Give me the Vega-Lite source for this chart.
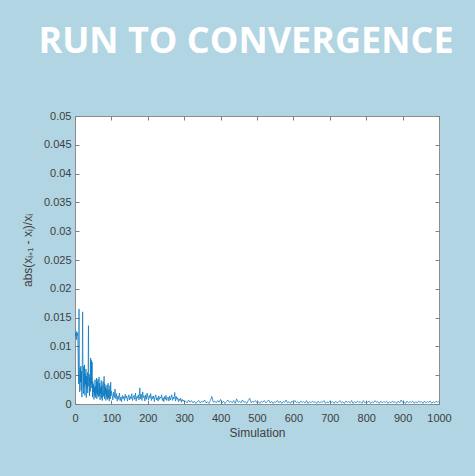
{
  "$schema": "https://vega.github.io/schema/vega-lite/v6.json",
  "width": 364,
  "height": 288,
  "autosize": {"type": "none"},
  "padding": {"left": 75, "top": 116, "right": 36, "bottom": 72},
  "background": "#b1d5e3",
  "title": {
    "text": "RUN TO CONVERGENCE",
    "color": "#ffffff",
    "font": "Open Sans",
    "fontSize": 36,
    "fontWeight": "bold",
    "anchor": "middle",
    "dx": -11,
    "offset": 21,
    "baseline": "alphabetic",
    "frame": "group"
  },
  "config": {
    "view": {"fill": "#ffffff", "stroke": "#8c8c8c", "strokeWidth": 1},
    "axis": {
      "labelFont": "Liberation Sans",
      "labelFontSize": 11,
      "labelColor": "#404040",
      "labelOverlap": false,
      "labelFlush": false,
      "titleFont": "Liberation Sans",
      "titleFontSize": 12,
      "titleFontWeight": "normal",
      "titleColor": "#404040",
      "tickColor": "#7f7f7f",
      "tickSize": -4,
      "domain": false,
      "grid": false
    }
  },
  "data": {
    "values": [
      {"s":1,"v":0.0118},{"s":2,"v":0.0124},{"s":3,"v":0.0121},{"s":4,"v":0.0112},{"s":5,"v":0.0126},
      {"s":6,"v":0.0119},{"s":7,"v":0.0123},{"s":8,"v":0.0104},{"s":9,"v":0.0062},{"s":10,"v":0.0035},
      {"s":11,"v":0.0165},{"s":12,"v":0.0052},{"s":13,"v":0.0021},{"s":14,"v":0.0063},{"s":15,"v":0.0038},
      {"s":16,"v":0.0066},{"s":17,"v":0.0024},{"s":18,"v":0.0057},{"s":19,"v":0.0012},{"s":20,"v":0.0071},
      {"s":21,"v":0.0160},{"s":22,"v":0.0043},{"s":23,"v":0.0018},{"s":24,"v":0.0065},{"s":25,"v":0.0029},
      {"s":26,"v":0.0068},{"s":27,"v":0.0015},{"s":28,"v":0.0052},{"s":29,"v":0.0034},{"s":30,"v":0.0061},
      {"s":31,"v":0.0011},{"s":32,"v":0.0048},{"s":33,"v":0.0027},{"s":34,"v":0.0055},{"s":35,"v":0.0019},
      {"s":36,"v":0.0044},{"s":37,"v":0.0136},{"s":38,"v":0.0031},{"s":39,"v":0.0052},{"s":40,"v":0.0014},
      {"s":41,"v":0.0046},{"s":42,"v":0.0022},{"s":43,"v":0.0080},{"s":44,"v":0.0035},{"s":45,"v":0.0076},
      {"s":46,"v":0.0028},{"s":47,"v":0.0073},{"s":48,"v":0.0012},{"s":49,"v":0.0039},{"s":50,"v":0.0021},
      {"s":51,"v":0.0034},{"s":52,"v":0.0008},{"s":53,"v":0.0029},{"s":54,"v":0.0015},{"s":55,"v":0.0042},
      {"s":56,"v":0.0011},{"s":57,"v":0.0031},{"s":58,"v":0.0019},{"s":59,"v":0.0045},{"s":60,"v":0.0009},
      {"s":61,"v":0.0038},{"s":62,"v":0.0016},{"s":63,"v":0.0043},{"s":64,"v":0.0012},{"s":65,"v":0.0027},
      {"s":66,"v":0.0047},{"s":67,"v":0.0014},{"s":68,"v":0.0036},{"s":69,"v":0.0007},{"s":70,"v":0.0029},
      {"s":71,"v":0.0018},{"s":72,"v":0.0041},{"s":73,"v":0.0010},{"s":74,"v":0.0032},{"s":75,"v":0.0006},
      {"s":76,"v":0.0024},{"s":77,"v":0.0039},{"s":78,"v":0.0013},{"s":79,"v":0.0028},{"s":80,"v":0.0048},
      {"s":81,"v":0.0009},{"s":82,"v":0.0035},{"s":83,"v":0.0017},{"s":84,"v":0.0030},{"s":85,"v":0.0006},
      {"s":86,"v":0.0026},{"s":87,"v":0.0012},{"s":88,"v":0.0033},{"s":89,"v":0.0008},{"s":90,"v":0.0021},
      {"s":91,"v":0.0036},{"s":92,"v":0.0010},{"s":93,"v":0.0025},{"s":94,"v":0.0005},{"s":95,"v":0.0019},
      {"s":96,"v":0.0032},{"s":97,"v":0.0009},{"s":98,"v":0.0038},{"s":99,"v":0.0014},{"s":100,"v":0.0022},
      {"s":102,"v":0.0016},{"s":104,"v":0.0007},{"s":106,"v":0.0021},{"s":108,"v":0.0011},{"s":110,"v":0.0026},
      {"s":112,"v":0.0009},{"s":114,"v":0.0018},{"s":116,"v":0.0005},{"s":118,"v":0.0014},{"s":120,"v":0.0008},
      {"s":122,"v":0.0019},{"s":124,"v":0.0006},{"s":126,"v":0.0012},{"s":128,"v":0.0004},{"s":130,"v":0.0015},
      {"s":132,"v":0.0009},{"s":134,"v":0.0013},{"s":136,"v":0.0006},{"s":138,"v":0.0017},{"s":140,"v":0.0010},
      {"s":142,"v":0.0014},{"s":144,"v":0.0005},{"s":146,"v":0.0011},{"s":148,"v":0.0016},{"s":150,"v":0.0007},
      {"s":152,"v":0.0013},{"s":154,"v":0.0009},{"s":156,"v":0.0018},{"s":158,"v":0.0006},{"s":160,"v":0.0012},
      {"s":162,"v":0.0015},{"s":164,"v":0.0008},{"s":166,"v":0.0019},{"s":168,"v":0.0005},{"s":170,"v":0.0013},
      {"s":172,"v":0.0010},{"s":174,"v":0.0016},{"s":176,"v":0.0007},{"s":178,"v":0.0028},{"s":180,"v":0.0009},
      {"s":182,"v":0.0017},{"s":184,"v":0.0006},{"s":186,"v":0.0021},{"s":188,"v":0.0011},{"s":190,"v":0.0014},
      {"s":192,"v":0.0005},{"s":194,"v":0.0016},{"s":196,"v":0.0008},{"s":198,"v":0.0019},{"s":200,"v":0.0012},
      {"s":202,"v":0.0007},{"s":204,"v":0.0015},{"s":206,"v":0.0010},{"s":208,"v":0.0018},{"s":210,"v":0.0006},
      {"s":212,"v":0.0013},{"s":214,"v":0.0009},{"s":216,"v":0.0014},{"s":218,"v":0.0004},{"s":220,"v":0.0012},
      {"s":222,"v":0.0016},{"s":224,"v":0.0007},{"s":226,"v":0.0011},{"s":228,"v":0.0005},{"s":230,"v":0.0014},
      {"s":232,"v":0.0008},{"s":234,"v":0.0012},{"s":236,"v":0.0010},{"s":238,"v":0.0016},{"s":240,"v":0.0006},
      {"s":242,"v":0.0011},{"s":244,"v":0.0004},{"s":246,"v":0.0013},{"s":248,"v":0.0008},{"s":250,"v":0.0015},
      {"s":252,"v":0.0006},{"s":254,"v":0.0010},{"s":256,"v":0.0012},{"s":258,"v":0.0005},{"s":260,"v":0.0014},
      {"s":262,"v":0.0007},{"s":264,"v":0.0011},{"s":266,"v":0.0016},{"s":268,"v":0.0006},{"s":270,"v":0.0012},
      {"s":272,"v":0.0009},{"s":274,"v":0.0020},{"s":276,"v":0.0005},{"s":278,"v":0.0013},{"s":280,"v":0.0008},
      {"s":282,"v":0.0011},{"s":284,"v":0.0004},{"s":286,"v":0.0009},{"s":288,"v":0.0006},{"s":290,"v":0.0010},
      {"s":292,"v":0.0003},{"s":294,"v":0.0008},{"s":296,"v":0.0005},{"s":298,"v":0.0007},{"s":300,"v":0.0004},
      {"s":304,"v":0.0005},{"s":308,"v":0.0002},{"s":312,"v":0.0007},{"s":316,"v":0.0003},{"s":320,"v":0.0006},
      {"s":324,"v":0.0002},{"s":328,"v":0.0005},{"s":332,"v":0.0001},{"s":336,"v":0.0004},{"s":340,"v":0.0006},
      {"s":344,"v":0.0002},{"s":348,"v":0.0005},{"s":352,"v":0.0003},{"s":356,"v":0.0007},{"s":360,"v":0.0002},
      {"s":364,"v":0.0004},{"s":368,"v":0.0001},{"s":372,"v":0.0006},{"s":376,"v":0.0013},{"s":380,"v":0.0003},
      {"s":384,"v":0.0005},{"s":388,"v":0.0002},{"s":392,"v":0.0006},{"s":396,"v":0.0003},{"s":400,"v":0.0008},
      {"s":404,"v":0.0002},{"s":408,"v":0.0005},{"s":412,"v":0.0001},{"s":416,"v":0.0004},{"s":420,"v":0.0007},
      {"s":424,"v":0.0003},{"s":428,"v":0.0005},{"s":432,"v":0.0002},{"s":436,"v":0.0006},{"s":440,"v":0.0001},
      {"s":444,"v":0.0009},{"s":448,"v":0.0003},{"s":452,"v":0.0005},{"s":456,"v":0.0002},{"s":460,"v":0.0007},
      {"s":464,"v":0.0003},{"s":468,"v":0.0004},{"s":472,"v":0.0001},{"s":476,"v":0.0006},{"s":480,"v":0.0010},
      {"s":484,"v":0.0002},{"s":488,"v":0.0005},{"s":492,"v":0.0003},{"s":496,"v":0.0006},{"s":500,"v":0.0002},
      {"s":504,"v":0.0004},{"s":508,"v":0.0001},{"s":512,"v":0.0005},{"s":516,"v":0.0003},{"s":520,"v":0.0006},
      {"s":524,"v":0.0002},{"s":528,"v":0.0004},{"s":532,"v":0.0007},{"s":536,"v":0.0002},{"s":540,"v":0.0005},
      {"s":544,"v":0.0001},{"s":548,"v":0.0004},{"s":552,"v":0.0003},{"s":556,"v":0.0006},{"s":560,"v":0.0002},
      {"s":564,"v":0.0005},{"s":568,"v":0.0001},{"s":572,"v":0.0004},{"s":576,"v":0.0003},{"s":580,"v":0.0007},
      {"s":584,"v":0.0002},{"s":588,"v":0.0004},{"s":592,"v":0.0001},{"s":596,"v":0.0005},{"s":600,"v":0.0003},
      {"s":604,"v":0.0006},{"s":608,"v":0.0002},{"s":612,"v":0.0004},{"s":616,"v":0.0001},{"s":620,"v":0.0005},
      {"s":624,"v":0.0003},{"s":628,"v":0.0004},{"s":632,"v":0.0002},{"s":636,"v":0.0006},{"s":640,"v":0.0001},
      {"s":644,"v":0.0004},{"s":648,"v":0.0002},{"s":652,"v":0.0005},{"s":656,"v":0.0003},{"s":660,"v":0.0004},
      {"s":664,"v":0.0001},{"s":668,"v":0.0005},{"s":672,"v":0.0002},{"s":676,"v":0.0004},{"s":680,"v":0.0003},
      {"s":684,"v":0.0006},{"s":688,"v":0.0001},{"s":692,"v":0.0004},{"s":696,"v":0.0002},{"s":700,"v":0.0005},
      {"s":704,"v":0.0003},{"s":708,"v":0.0004},{"s":712,"v":0.0001},{"s":716,"v":0.0005},{"s":720,"v":0.0002},
      {"s":724,"v":0.0003},{"s":728,"v":0.0006},{"s":732,"v":0.0002},{"s":736,"v":0.0004},{"s":740,"v":0.0001},
      {"s":744,"v":0.0005},{"s":748,"v":0.0003},{"s":752,"v":0.0004},{"s":756,"v":0.0002},{"s":760,"v":0.0006},
      {"s":764,"v":0.0001},{"s":768,"v":0.0004},{"s":772,"v":0.0002},{"s":776,"v":0.0005},{"s":780,"v":0.0003},
      {"s":784,"v":0.0004},{"s":788,"v":0.0001},{"s":792,"v":0.0006},{"s":796,"v":0.0002},{"s":800,"v":0.0004},
      {"s":804,"v":0.0003},{"s":808,"v":0.0005},{"s":812,"v":0.0001},{"s":816,"v":0.0004},{"s":820,"v":0.0002},
      {"s":824,"v":0.0006},{"s":828,"v":0.0003},{"s":832,"v":0.0004},{"s":836,"v":0.0001},{"s":840,"v":0.0005},
      {"s":844,"v":0.0002},{"s":848,"v":0.0004},{"s":852,"v":0.0003},{"s":856,"v":0.0005},{"s":860,"v":0.0001},
      {"s":864,"v":0.0004},{"s":868,"v":0.0002},{"s":872,"v":0.0005},{"s":876,"v":0.0003},{"s":880,"v":0.0004},
      {"s":884,"v":0.0001},{"s":888,"v":0.0005},{"s":892,"v":0.0002},{"s":896,"v":0.0007},{"s":900,"v":0.0003},
      {"s":904,"v":0.0004},{"s":908,"v":0.0001},{"s":912,"v":0.0005},{"s":916,"v":0.0002},{"s":920,"v":0.0004},
      {"s":924,"v":0.0003},{"s":928,"v":0.0005},{"s":932,"v":0.0001},{"s":936,"v":0.0004},{"s":940,"v":0.0002},
      {"s":944,"v":0.0005},{"s":948,"v":0.0003},{"s":952,"v":0.0004},{"s":956,"v":0.0001},{"s":960,"v":0.0005},
      {"s":964,"v":0.0002},{"s":968,"v":0.0004},{"s":972,"v":0.0003},{"s":976,"v":0.0005},{"s":980,"v":0.0001},
      {"s":984,"v":0.0004},{"s":988,"v":0.0002},{"s":992,"v":0.0005},{"s":996,"v":0.0003},{"s":1000,"v":0.0004}
    ]
  },
  "layer": [
    {
      "mark": {"type": "line", "color": "#0072bd", "strokeWidth": 0.7},
      "encoding": {
        "x": {
          "field": "s", "type": "quantitative",
          "scale": {"domain": [0, 1000], "nice": false},
          "axis": {"orient": "bottom", "values": [0,100,200,300,400,500,600,700,800,900,1000], "format": "d", "labelPadding": 12, "title": "Simulation", "titlePadding": 4}
        },
        "y": {
          "field": "v", "type": "quantitative",
          "scale": {"domain": [0, 0.05], "nice": false},
          "axis": {"orient": "left", "values": [0,0.005,0.01,0.015,0.02,0.025,0.03,0.035,0.04,0.045,0.05], "format": ".3~f", "labelPadding": 8, "title": "abs(xᵢ₊₁ - xᵢ)/xᵢ", "titlePadding": 9, "titleY": 134}
        }
      }
    },
    {
      "mark": {"type": "line", "strokeOpacity": 0},
      "encoding": {
        "x": {
          "field": "s", "type": "quantitative",
          "scale": {"domain": [0, 1000], "nice": false},
          "axis": {"orient": "top", "values": [0,100,200,300,400,500,600,700,800,900,1000], "labels": false, "title": null}
        },
        "y": {
          "field": "v", "type": "quantitative",
          "scale": {"domain": [0, 0.05], "nice": false},
          "axis": {"orient": "right", "values": [0,0.005,0.01,0.015,0.02,0.025,0.03,0.035,0.04,0.045,0.05], "labels": false, "title": null}
        }
      }
    }
  ],
  "resolve": {"axis": {"x": "independent", "y": "independent"}}
}
